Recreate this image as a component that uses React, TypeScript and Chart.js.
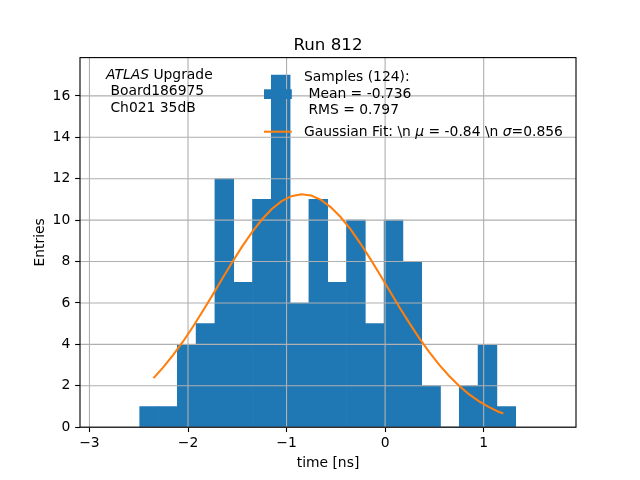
import { useEffect, useRef } from "react";
import { Chart, registerables } from "chart.js";
Chart.register(...registerables);

// histogram bin centres and entries
const binCenters = [
  -2.3946, -2.2039, -2.0131, -1.8224, -1.6316, -1.4409, -1.2501, -1.0594, -0.8686, -0.6779,
  -0.4871, -0.2964, -0.1056, 0.0851, 0.2759, 0.4666, 0.6574, 0.8481, 1.0389, 1.2296,
];
const binCounts = [1, 1, 4, 5, 12, 7, 11, 17, 6, 11, 7, 10, 5, 10, 8, 2, 0, 2, 4, 1];

// gaussian fit curve
const fitX = [
  -2.35, -2.25, -2.15, -2.05, -1.95, -1.85, -1.75, -1.65, -1.55, -1.45, -1.35, -1.25, -1.15,
  -1.05, -0.95, -0.85, -0.75, -0.65, -0.55, -0.45, -0.35, -0.25, -0.15, -0.05, 0.05, 0.15,
  0.25, 0.35, 0.45, 0.55, 0.65, 0.75, 0.85, 0.95, 1.05, 1.15, 1.2,
];
const fitY = [
  2.37, 2.9, 3.49, 4.14, 4.85, 5.61, 6.39, 7.19, 7.98, 8.73, 9.42, 10.03, 10.54, 10.92, 11.16,
  11.25, 11.19, 10.98, 10.62, 10.14, 9.55, 8.87, 8.13, 7.35, 6.55, 5.76, 5.0, 4.28, 3.61, 3.01,
  2.47, 2.0, 1.6, 1.26, 0.98, 0.75, 0.66,
];

const xTicks = [-3, -2, -1, 0, 1];
const yTicks = [0, 2, 4, 6, 8, 10, 12, 14, 16];

const FONT = '"DejaVu Sans"';
const PT = 100 / 72;
const BLUE = "#1f77b4";
const ORANGE = "#ff7f0e";

const fmt = (v: number) => (v < 0 ? "\u2212" + Math.abs(v) : String(v));

// grid goes above the bars but under the fit line, like matplotlib
const gridPlugin = {
  id: "mplGrid",
  afterDatasetDraw(chart: any, args: any) {
    if (args.meta.type !== "bar") return;
    const { ctx, chartArea: a, scales } = chart;
    ctx.save();
    ctx.strokeStyle = "#b0b0b0";
    ctx.lineWidth = 0.8 * PT;
    ctx.beginPath();
    for (const t of scales.x.ticks) {
      const px = scales.x.getPixelForValue(t.value);
      ctx.moveTo(px, a.top);
      ctx.lineTo(px, a.bottom);
    }
    for (const t of scales.y.ticks) {
      const py = scales.y.getPixelForValue(t.value);
      ctx.moveTo(a.left, py);
      ctx.lineTo(a.right, py);
    }
    ctx.stroke();
    ctx.restore();
  },
};

const textPlugin = {
  id: "mplText",
  afterDraw(chart: any) {
    const { ctx, chartArea: a } = chart;
    const fs = 10 * PT;
    const norm = `${fs}px ${FONT}`;
    const ital = `italic ${fs}px ${FONT}`;
    ctx.save();

    // frame
    ctx.strokeStyle = "#000";
    ctx.lineWidth = 0.8 * PT;
    ctx.strokeRect(a.left, a.top, a.right - a.left, a.bottom - a.top);

    ctx.fillStyle = "#000";
    ctx.textBaseline = "alphabetic";

    // title and axis labels
    ctx.textAlign = "center";
    ctx.font = `${12 * PT}px ${FONT}`;
    ctx.fillText("Run 812", (a.left + a.right) / 2, 50);
    ctx.font = norm;
    ctx.fillText("time [ns]", (a.left + a.right) / 2, 467.3);
    ctx.save();
    ctx.translate(44, (a.top + a.bottom) / 2);
    ctx.rotate(-Math.PI / 2);
    ctx.fillText("Entries", 0, 0);
    ctx.restore();

    // label in the top-left corner
    ctx.textAlign = "left";
    const lx = a.left + 26;
    ctx.font = ital;
    ctx.fillText("ATLAS", lx, a.top + 21.1);
    const w = ctx.measureText("ATLAS").width;
    ctx.font = norm;
    ctx.fillText(" Upgrade", lx + w, a.top + 21.1);
    ctx.fillText(" Board186975", lx, a.top + 37.8);
    ctx.fillText(" Ch021 35dB", lx, a.top + 54.5);

    // legend
    ctx.fillStyle = BLUE;
    ctx.fillRect(264, 89.3, 27.8, 9.7);
    ctx.strokeStyle = ORANGE;
    ctx.lineWidth = 1.5 * PT;
    ctx.beginPath();
    ctx.moveTo(264, 131.7);
    ctx.lineTo(291.8, 131.7);
    ctx.stroke();

    ctx.fillStyle = "#000";
    ctx.font = norm;
    const tx = 304;
    ctx.fillText("Samples (124):", tx, 81.3);
    ctx.fillText(" Mean = -0.736", tx, 97.5);
    ctx.fillText(" RMS = 0.797", tx, 113.7);

    const parts: [string, boolean][] = [
      ["Gaussian Fit: \\n ", false],
      ["\u03bc", true],
      [" = -0.84 \\n ", false],
      ["\u03c3", true],
      ["=0.856", false],
    ];
    let cx = tx;
    for (const [s, it] of parts) {
      ctx.font = it ? ital : norm;
      ctx.fillText(s, cx, 136.2);
      cx += ctx.measureText(s).width;
    }
    ctx.restore();
  },
};

const App = () => {
  const chartRef = useRef<HTMLCanvasElement | null>(null);
  const chartInstance = useRef<Chart | null>(null);

  useEffect(() => {
    document.body.style.margin = "0";
    if (!chartRef.current) return;
    const ctx = chartRef.current.getContext("2d");
    if (!ctx) return;
    if (chartInstance.current) chartInstance.current.destroy();

    const tickFont = { family: FONT, size: 10 * PT };

    chartInstance.current = new Chart(ctx, {
      type: "bar",
      data: {
        datasets: [
          {
            type: "line",
            label: "Gaussian Fit",
            data: fitX.map((x, i) => ({ x, y: fitY[i] })),
            borderColor: ORANGE,
            borderWidth: 1.5 * PT,
            pointRadius: 0,
            tension: 0,
            fill: false,
            order: 1,
          },
          {
            type: "bar",
            label: "Samples (124)",
            data: binCenters.map((x, i) => ({ x, y: binCounts[i] })),
            backgroundColor: BLUE,
            borderWidth: 0,
            barPercentage: 1,
            categoryPercentage: 1,
            order: 2,
          },
        ] as any,
      },
      options: {
        responsive: false,
        animation: false,
        layout: { padding: { left: 0, top: 57.6, right: 64, bottom: 0 } },
        plugins: {
          legend: { display: false },
          title: { display: false },
          tooltip: { enabled: false },
        },
        scales: {
          x: {
            type: "linear",
            min: -3.096,
            max: 1.937,
            offset: false,
            afterBuildTicks: (s: any) => {
              s.ticks = xTicks.map((v) => ({ value: v }));
            },
            afterFit: (s: any) => {
              s.height = 52.8;
            },
            grid: {
              offset: false,
              drawOnChartArea: false,
              drawTicks: true,
              tickLength: 3.5 * PT,
              tickColor: "#000",
              tickWidth: 0.8 * PT,
            },
            border: { display: false },
            ticks: {
              autoSkip: false,
              maxRotation: 0,
              padding: 3,
              color: "#000",
              font: tickFont,
              callback: (v: any) => fmt(Number(v)),
            },
          },
          y: {
            type: "linear",
            min: 0,
            max: 17.85,
            afterBuildTicks: (s: any) => {
              s.ticks = yTicks.map((v) => ({ value: v }));
            },
            afterFit: (s: any) => {
              s.width = 80;
            },
            grid: {
              drawOnChartArea: false,
              drawTicks: true,
              tickLength: 3.5 * PT,
              tickColor: "#000",
              tickWidth: 0.8 * PT,
            },
            border: { display: false },
            ticks: {
              autoSkip: false,
              padding: 3.5 * PT,
              color: "#000",
              font: tickFont,
              callback: (v: any) => fmt(Number(v)),
            },
          },
        },
      } as any,
      plugins: [gridPlugin, textPlugin],
    });

    return () => {
      if (chartInstance.current) {
        chartInstance.current.destroy();
        chartInstance.current = null;
      }
    };
  }, []);

  return (
    <canvas ref={chartRef} width={640} height={480} style={{ display: "block", background: "#fff" }}></canvas>
  );
};

export default App;
